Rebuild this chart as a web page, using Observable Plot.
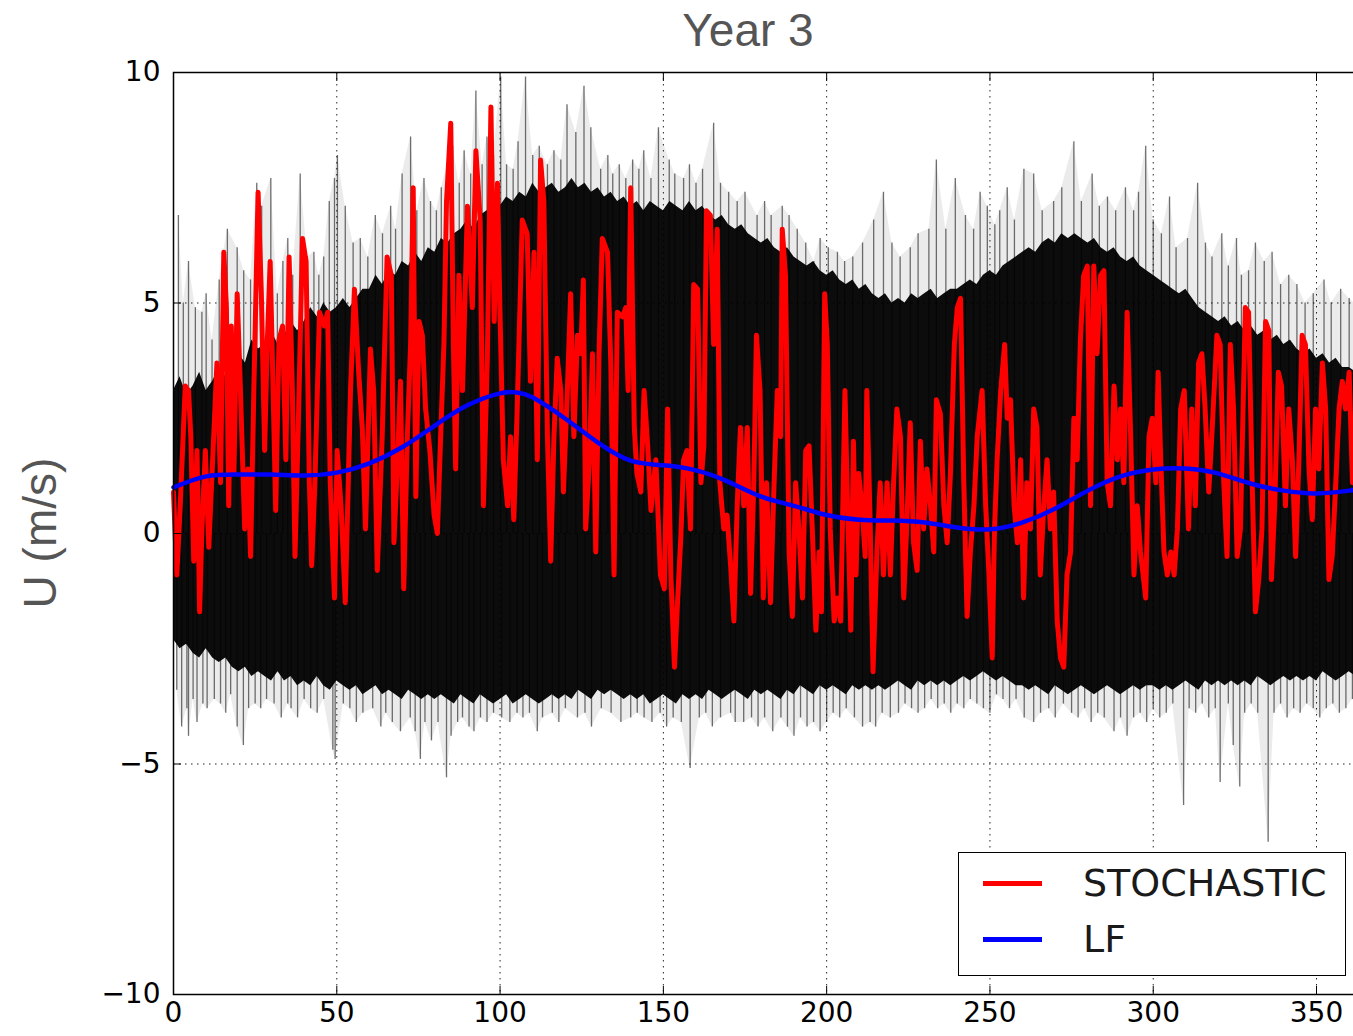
<!DOCTYPE html>
<html>
<head>
<meta charset="utf-8">
<script src="https://cdn.jsdelivr.net/npm/d3@7"></script>
<script src="https://cdn.jsdelivr.net/npm/@observablehq/plot@0.6"></script>
<style>
  html, body { margin: 0; padding: 0; background: #fff; overflow: hidden; width: 1353px; height: 1036px; }
  #wrap { position: relative; width: 1353px; height: 1036px; overflow: hidden; }
  #chart svg { max-width: none !important; display: block; }
  #title { height: 60px; line-height: 60px; width: 1496px; text-align: center; font-family: "Liberation Sans", Arial, sans-serif; font-size: 46px; color: #555; }
  #ylabel { position: absolute; left: 40px; top: 533px; transform: translate(-50%, -50%) rotate(-90deg); white-space: nowrap; font-family: "Liberation Sans", Arial, sans-serif; font-size: 46px; color: #555; }
  #legend { position: absolute; left: 958px; top: 852px; width: 388px; height: 124px; border: 1.5px solid #000; background: #fff; box-sizing: border-box; }
  .sw { position: absolute; left: 24px; width: 59px; height: 4.5px; }
  .lt { position: absolute; left: 124px; font-family: "DejaVu Sans", sans-serif; font-size: 38px; line-height: 40px; color: #1a1a1a; white-space: nowrap; }
</style>
</head>
<body>
<div id="wrap">
  <div id="title"></div>
  <div id="chart"></div>
  <div id="ylabel"></div>
  <div id="legend"></div>
</div>
<script>
// ---- texts ----
const titleText = "Year 3";
const yLabelText = "U (m/s)";
const legendLabels = ["STOCHASTIC", "LF"];
const legendColors = ["#ff0000", "#0000ff"];

// ---- ticks ----
const xTicks = [0, 50, 100, 150, 200, 250, 300, 350];
const yTicks = [-10, -5, 0, 5, 10];

// ---- LF (low-frequency) series ----
const lfDay = [0,10,20,30,40,50,60,70,80,90,100,105,110,120,130,140,150,160,170,180,190,200,210,220,230,240,250,260,270,280,290,300,310,320,330,340,350,360,365];
const lfVal = [1.0,1.24,1.28,1.28,1.26,1.32,1.52,1.87,2.34,2.78,3.04,3.06,2.95,2.49,1.97,1.58,1.48,1.37,1.12,0.8,0.6,0.4,0.3,0.28,0.24,0.13,0.09,0.24,0.54,0.93,1.24,1.39,1.41,1.3,1.08,0.93,0.87,0.93,0.98];

// ---- STOCHASTIC series ----
const redDay = [0,1.0,2.05,3.6,4.6,5.3,6.2,7.2,8.0,8.7,9.75,10.8,11.8,13.3,14.4,15.4,16.2,16.9,17.7,18.5,19.5,20.5,21.8,22.8,23.6,24.6,25.9,26.9,27.9,28.7,29.6,30.5,31.3,32.3,33.4,34.4,35.4,36.4,37.2,38.2,39.5,40.6,41.6,42.3,43.3,44.7,46.2,47.2,48.0,49.3,50.1,51.3,
52.6,54.2,55.4,56.7,57.8,58.8,60.3,61.3,62.4,63.9,65.4,66.7,67.5,68.5,69.5,70.5,71.6,72.6,73.4,74.2,75.2,76.2,77.2,78.5,79.8,80.8,81.8,82.8,83.6,84.9,85.7,86.4,87.4,88.5,90.0,91.5,92.6,93.9,94.9,96.1,97.2,98.2,99.2,100.0,101.0,102.3,
103.2,104.2,105.2,106.8,108.3,109.3,110.4,111.4,112.4,113.4,114.5,115.5,116.5,117.5,118.6,119.4,120.6,121.6,122.6,123.7,124.7,125.5,126.2,127.3,128.3,129.3,130.3,131.3,132.9,133.9,134.9,135.9,137.5,138.5,139.2,140.0,141.1,141.9,143.1,144.1,145.2,146.2,147.7,149.1,150.3,151.3,152.3,153.4,154.4,155.4,
156.2,157.2,158.3,159.3,160.5,161.5,162.4,163.2,164.4,165.4,166.5,167.3,168.5,169.5,170.6,171.6,172.6,173.6,174.6,175.7,176.7,177.7,178.5,179.6,180.6,181.6,182.8,183.9,184.9,185.9,186.4,187.4,188.5,189.5,190.5,191.5,192.6,193.6,194.6,195.6,196.7,197.7,198.4,199.4,200.2,201.1,202.3,203.3,204.3,205.6,206.4,207.4,208.2,
209.0,209.8,210.8,211.8,212.3,213.3,214.2,215.4,216.4,217.4,218.5,219.5,220.5,221.5,222.6,223.6,224.6,225.6,226.6,227.7,228.7,229.7,230.7,231.8,232.8,233.6,234.8,235.9,236.9,237.9,239.1,240.0,241.0,242.0,243.0,244.0,245.1,246.1,247.6,248.7,249.7,250.7,251.4,252.2,253.3,254.5,255.3,256.3,257.4,258.4,259.4,
260.3,261.3,262.4,263.4,264.4,265.4,266.5,267.5,268.5,269.5,270.6,271.6,272.6,273.6,274.7,275.7,276.7,277.7,278.7,279.8,280.8,281.8,282.8,283.9,284.9,285.9,286.9,288.0,289.0,290.0,291.0,292.0,293.1,294.1,295.1,296.1,297.7,298.7,299.7,300.8,301.5,302.3,303.3,304.3,305.4,306.4,307.4,308.4,309.5,
310.8,311.8,312.9,313.9,314.9,315.9,317.0,318.0,319.5,320.5,321.6,322.6,323.6,324.6,325.7,326.7,328.2,329.2,330.3,331.3,332.3,333.3,334.4,335.4,336.2,337.2,338.3,339.3,340.5,341.5,342.6,343.6,344.6,345.6,346.6,347.7,348.7,349.7,350.7,351.8,352.8,353.8,354.8,355.9,356.9,357.9,358.9,360.0,361.0,362.0];
const redVal = [0.9,-0.9,0.6,3.2,3.1,2.1,-0.6,1.8,-1.7,0.1,1.8,-0.3,1.3,3.7,1.1,6.1,4.9,0.6,4.5,1.3,5.2,3.1,0.1,1.4,-0.5,3.1,7.4,5.2,1.8,4.1,5.9,3.1,0.5,4.2,4.5,1.6,6.0,3.1,-0.5,2.3,6.4,5.9,1.1,-0.7,1.1,4.8,4.5,4.8,1.1,-1.4,1.8,0.6,
-1.5,3.1,5.3,3.5,2.3,0.1,4.0,3.1,-0.8,2.1,6.0,5.6,-0.2,1.4,3.3,-1.2,2.1,4.1,7.5,0.8,4.6,4.3,2.7,1.8,0.4,0.0,2.1,4.1,7.2,8.9,4.1,1.4,5.6,3.1,7.1,4.9,8.3,6.8,0.6,3.8,9.25,4.6,7.6,4.7,1.6,0.6,
2.1,0.3,2.6,6.8,6.5,3.3,6.1,1.6,8.1,7.2,2.1,-0.6,2.1,3.8,3.1,0.9,3.1,5.2,2.1,4.3,3.9,5.5,0.1,1.5,3.9,-0.4,3.9,6.4,6.1,3.7,-0.9,4.8,4.7,4.9,3.1,7.5,2.3,1.3,0.9,3.1,1.9,0.5,1.6,-0.9,-1.2,2.7,-0.9,-2.9,-1.4,0.0,
1.6,1.8,0.1,5.4,5.3,1.1,1.9,7.0,6.9,4.1,6.6,1.1,0.1,0.4,-0.7,-1.9,0.6,2.3,0.6,2.3,-1.3,1.1,4.3,3.1,-1.4,1.1,-1.5,1.1,3.1,2.1,6.6,5.6,-0.4,-1.8,1.1,0.1,-1.4,1.8,1.9,0.1,-2.1,-0.4,-1.7,5.2,4.1,0.1,-1.9,-1.4,-1.9,3.1,0.6,-2.1,2.0,
-0.9,1.3,0.6,-0.5,3.1,0.3,-3.0,-0.4,1.1,-0.9,1.1,-0.9,1.1,2.7,2.1,-1.4,0.3,2.4,-0.2,-0.8,2.0,0.1,1.4,0.6,-0.4,2.9,2.6,0.6,-0.2,1.3,4.1,4.9,5.1,1.1,-1.8,-0.4,0.6,2.1,3.1,0.6,-0.9,-2.7,0.1,1.6,3.1,4.1,2.5,2.9,0.6,-0.2,1.6,
-1.4,1.1,0.1,2.7,2.3,-0.9,0.6,1.6,0.1,0.9,-1.9,-2.7,-2.9,-0.9,-0.4,2.5,1.6,4.2,5.6,5.8,0.6,5.8,3.9,5.6,5.7,1.1,0.6,3.2,1.6,2.7,1.1,4.8,2.1,-0.9,0.6,-0.4,-1.4,2.1,2.5,1.1,3.5,1.6,-0.4,-0.9,-0.4,-0.9,0.1,2.7,3.1,
0.1,2.7,0.6,3.7,3.9,2.7,0.9,2.2,4.3,4.1,1.1,-0.5,4.1,2.7,-0.5,0.1,4.9,4.8,1.1,-1.7,-1.0,0.1,4.6,4.4,-1.0,0.6,3.5,3.2,0.6,2.7,1.6,-0.5,1.6,4.3,4.1,1.4,0.3,2.7,1.4,3.7,2.7,-1.0,-0.5,1.1,2.7,3.3,2.7,3.5,1.1,2.4];

// ---- hourly U: dense core envelope every 2 days (from day 0) ----
const coreStep = 2;
const coreHi = [3.1,3.4,3.0,3.2,3.5,3.1,3.3,3.6,3.4,3.7,
3.9,3.7,4.2,4.0,4.1,4.4,4.1,4.3,4.6,4.4,
4.6,4.9,4.7,5.0,4.8,4.9,5.1,4.9,5.1,5.3,
5.3,5.6,5.4,5.7,5.6,5.9,5.8,6.1,5.9,6.2,
6.1,6.4,6.3,6.5,6.6,6.8,6.6,6.9,7.0,6.9,
7.1,7.3,7.2,7.4,7.3,7.6,7.4,7.5,7.6,7.4,
7.5,7.7,7.5,7.6,7.4,7.5,7.3,7.4,7.2,7.3,
7.1,7.2,7.0,7.2,7.1,7.0,7.2,7.1,7.0,7.2,
7.0,7.1,6.9,6.8,6.9,6.7,6.6,6.7,6.5,6.4,
6.3,6.4,6.2,6.1,6.2,6.0,5.9,5.8,5.9,5.7,
5.6,5.7,5.5,5.4,5.5,5.3,5.4,5.2,5.1,5.2,
5.0,5.1,5.0,5.2,5.1,5.2,5.3,5.1,5.2,5.3,
5.3,5.4,5.5,5.4,5.6,5.7,5.6,5.8,5.9,6.0,
6.1,6.2,6.1,6.3,6.4,6.3,6.5,6.4,6.5,6.4,
6.3,6.4,6.2,6.1,6.2,6.0,5.9,6.0,5.8,5.7,
5.6,5.5,5.4,5.3,5.2,5.3,5.1,4.9,4.8,4.7,
4.6,4.7,4.5,4.6,4.4,4.5,4.3,4.4,4.2,4.3,
4.1,4.2,4.0,3.9,4.0,3.8,3.9,3.7,3.8,3.6,
3.6,3.5,3.6];
const coreLo = [-2.3,-2.5,-2.4,-2.6,-2.7,-2.5,-2.7,-2.8,-2.7,-2.9,
-3.0,-2.9,-3.1,-3.0,-3.1,-3.2,-3.0,-3.2,-3.1,-3.3,
-3.2,-3.3,-3.1,-3.3,-3.4,-3.2,-3.3,-3.4,-3.3,-3.5,
-3.4,-3.3,-3.5,-3.4,-3.5,-3.6,-3.4,-3.5,-3.6,-3.5,
-3.6,-3.5,-3.6,-3.7,-3.5,-3.6,-3.7,-3.5,-3.6,-3.7,
-3.6,-3.5,-3.7,-3.6,-3.5,-3.6,-3.7,-3.6,-3.5,-3.6,
-3.5,-3.6,-3.4,-3.5,-3.6,-3.4,-3.5,-3.4,-3.5,-3.6,
-3.5,-3.6,-3.5,-3.7,-3.6,-3.5,-3.6,-3.7,-3.5,-3.6,
-3.5,-3.6,-3.4,-3.5,-3.6,-3.5,-3.4,-3.5,-3.6,-3.4,
-3.5,-3.4,-3.5,-3.6,-3.4,-3.5,-3.3,-3.4,-3.5,-3.3,
-3.4,-3.3,-3.4,-3.5,-3.3,-3.4,-3.3,-3.4,-3.3,-3.4,
-3.3,-3.2,-3.3,-3.4,-3.2,-3.3,-3.2,-3.3,-3.2,-3.3,
-3.2,-3.1,-3.2,-3.1,-3.0,-3.1,-3.2,-3.1,-3.2,-3.3,
-3.3,-3.4,-3.3,-3.4,-3.5,-3.3,-3.4,-3.5,-3.4,-3.3,
-3.4,-3.5,-3.4,-3.3,-3.4,-3.5,-3.4,-3.3,-3.4,-3.3,
-3.3,-3.4,-3.3,-3.4,-3.3,-3.2,-3.3,-3.4,-3.2,-3.3,
-3.2,-3.3,-3.2,-3.3,-3.2,-3.3,-3.1,-3.2,-3.3,-3.2,
-3.1,-3.2,-3.1,-3.2,-3.1,-3.2,-3.0,-3.1,-3.2,-3.1,
-3.0,-3.1,-3.0];

// ---- hourly U: isolated excursions beyond the dense core ----
const spikeUpDay = [1.5,3,4.6,6.7,8.7,10,11.8,14,16.5,19.5,21.5,23.6,25.5,27,29.8,31.8,33.5,35,36.5,38.8,41,43,44.5,46,47.7,49.3,50.2,52.6,55,57.2,59.5,61.8,64,66.5,68,70,72.6,74.5,76.7,78.7,80.5,82,85.5,87.5,89,91,92.6,94.5,96,98,100.2,102,104,105.5,107.8,110,112,114.5,116.5,118.6,120.5,123.2,125.7,127.8,130.8,133,134.5,136.5,138.5,140.6,142.5,144,146.2,148.5,151.8,153.5,156.2,158,160,162,165.4,167.5,170,172.6,175,178.7,181,183,186.4,188.5,191,193.6,196.1,198,200.5,203.3,205.5,208,211,214.4,217.4,220,222.5,225.6,228,231.3,233.6,236.5,239.4,242.5,245,247,249.2,251.5,253,255.3,257.5,260.4,263.4,266,269.5,272,275.7,278,281.3,283.5,286,288.5,291.5,294,295.5,297.7,300,302.5,305,307,310.5,313.6,316,318,321,323,325.5,327,329.2,331.3,334,336.4,339,341.5,344,346.5,349,352.3,354.5,357.4,360,363];
const spikeUpVal = [6.9,5.0,5.9,4.9,4.8,5.2,4.2,5.5,6.6,6.2,5.7,5.5,7.6,7.1,7.7,5.2,5.9,6.4,5.6,7.8,6.0,6.1,5.6,6.0,7.2,7.7,8.2,7.1,6.3,6.4,6.0,6.9,6.5,7.1,6.6,7.8,8.6,7.0,7.7,7.2,7.0,7.5,8.4,7.6,8.3,7.8,9.6,8.0,8.6,8.2,9.9,8.0,7.9,8.5,9.9,8.2,8.4,8.0,8.3,8.1,9.3,8.7,9.7,8.8,7.9,8.2,7.8,8.0,7.7,8.1,7.9,8.3,7.7,8.8,8.1,7.8,7.7,8.0,7.6,7.9,8.9,7.6,7.4,7.2,7.4,6.9,7.2,6.9,7.1,6.9,6.6,6.3,5.9,6.4,6.2,6.1,5.9,6.0,6.3,6.8,7.4,6.3,6.0,6.2,6.5,6.6,8.1,6.6,7.7,6.9,6.6,7.4,7.1,6.7,7.0,7.5,6.8,7.9,7.8,7.0,7.2,7.5,8.5,7.2,7.8,7.1,7.3,7.0,7.5,7.0,7.4,8.4,6.8,6.5,7.3,6.2,6.4,7.6,6.3,6.0,6.5,5.8,6.4,5.6,5.7,6.3,5.9,6.1,5.4,5.6,5.4,5.0,5.2,5.5,5.0,5.3,5.1,4.9];
const spikeDnDay = [1,2.5,4.1,4.6,6,7.2,9,10.3,12.5,14.4,16,17.5,19.5,21.4,23,25,26.7,28.5,30.8,33,35,36,38,40,42,44,46,48.8,49.5,52,54,56,58,61,63.5,65,67,69.5,72.5,74,75.6,77,79,81,83.6,85,87,88.5,90.5,92,94,96,98,100.5,103,105.2,107,109,111.4,113,116,118,120,123.7,126,128,131,134,137,140,142,144.1,146.5,149,151,153,155.5,158.2,161,163,165,167.5,170.6,172,174.6,177,179,181,183.5,186,188,190,192,194,196,198,200,202,204,206,208.5,211,213.3,215,217,219.5,222,224,226,228,230,232,234,236,238,240,242,244,246,248,250,252,254,256,258,260.5,263.4,265.5,268,270,272.5,275,277,279,281,283,285,288,290,292,294,296,298,300,302,304,306,309.3,311,313,315,317,319,320.5,323,324.5,326.5,328,330,332,335.2,337,339,341,343,345,347,349,351,353,355,357,359,361,363];
const spikeDnVal = [-3.4,-4.2,-3.8,-4.4,-3.6,-4.1,-3.7,-3.8,-3.6,-3.7,-3.9,-3.5,-4.2,-4.6,-3.8,-3.7,-3.8,-3.6,-3.7,-4.0,-3.7,-3.8,-4.0,-3.6,-3.8,-3.9,-3.6,-4.7,-4.9,-3.7,-3.8,-4.1,-3.9,-3.8,-4.2,-3.9,-4.1,-4.3,-4.0,-4.3,-4.9,-4.1,-4.5,-4.1,-5.3,-4.4,-4.1,-4.0,-4.2,-4.3,-4.0,-4.1,-3.9,-4.0,-4.1,-3.9,-4.0,-3.9,-4.3,-4.0,-3.9,-4.1,-3.8,-4.0,-3.9,-4.2,-3.8,-3.9,-4.1,-4.0,-3.9,-4.0,-4.1,-3.9,-4.2,-4.0,-4.1,-5.1,-4.0,-3.9,-4.2,-4.0,-3.9,-4.1,-4.1,-4.0,-4.2,-4.0,-4.3,-4.0,-4.2,-4.4,-4.0,-4.2,-4.1,-4.3,-4.1,-3.9,-4.0,-3.8,-4.0,-4.2,-4.1,-4.2,-3.9,-4.0,-3.9,-3.7,-3.8,-3.9,-3.8,-3.6,-3.8,-3.7,-3.9,-3.7,-3.8,-3.6,-3.7,-3.8,-3.9,-3.5,-3.6,-3.8,-3.6,-4.0,-4.1,-3.9,-3.8,-4.0,-3.7,-3.9,-4.0,-3.8,-4.1,-3.9,-4.0,-4.3,-4.0,-4.4,-4.0,-3.9,-4.1,-3.8,-4.0,-3.9,-3.7,-5.9,-3.8,-3.9,-3.7,-4.0,-3.8,-5.4,-3.7,-4.6,-5.5,-3.9,-3.7,-3.9,-6.7,-3.9,-3.7,-4.0,-3.8,-3.9,-3.7,-3.8,-4.0,-3.8,-3.7,-3.9,-3.8,-3.6,-3.7];

// ---- build tables ----
function pairs(xs, ys) {
  const n = Math.min(xs.length, ys.length);
  return d3.range(n).map(i => ({d: xs[i], v: ys[i]}));
}
const red = pairs(redDay, redVal);
const lf = pairs(lfDay, lfVal);
const spikesUp = pairs(spikeUpDay, spikeUpVal);
const spikesDn = pairs(spikeDnDay, spikeDnVal);
const spikes = spikesUp.concat(spikesDn);
const nCore = Math.min(coreHi.length, coreLo.length);
const core = d3.range(nCore).map(i => ({d: i * coreStep, hi: coreHi[i], lo: coreLo[i]}));

const fmtY = d => (d < 0 ? "\u2212" + Math.abs(d) : String(d));

const chart = Plot.plot({
  width: 1366,
  height: 976,
  marginTop: 12,
  marginLeft: 173,
  marginRight: 1,
  marginBottom: 42,
  x: {domain: [0, 365]},
  y: {domain: [-10, 10]},
  style: {fontFamily: "DejaVu Sans, sans-serif", fontSize: "28px", color: "#000", background: "#fff", overflow: "visible", maxWidth: "none"},
  marks: [
    // faint haze of the hourly signal out to its excursions
    Plot.areaY(spikesUp, {x: "d", y1: 0, y2: "v", fill: "#000", fillOpacity: 0.08}),
    Plot.areaY(spikesDn, {x: "d", y1: 0, y2: "v", fill: "#000", fillOpacity: 0.08}),
    Plot.ruleX(spikes, {x: "d", y1: 0, y2: "v", stroke: "#333", strokeWidth: 1.3, strokeOpacity: 0.7}),
    Plot.areaY(core, {x: "d", y1: "lo", y2: "hi", fill: "#000", fillOpacity: 0.95}),
    Plot.gridX({ticks: xTicks, stroke: "#000", strokeOpacity: 0.85, strokeWidth: 1, strokeDasharray: "1.5,4.5"}),
    Plot.gridY({ticks: yTicks, stroke: "#000", strokeOpacity: 0.85, strokeWidth: 1, strokeDasharray: "1.5,4.5"}),
    Plot.line(red, {x: "d", y: "v", stroke: "#ff0000", strokeWidth: 5, strokeLinejoin: "round"}),
    Plot.line(lf, {x: "d", y: "v", stroke: "#0000ff", strokeWidth: 4.5, curve: "natural"}),
    Plot.frame({stroke: "#000", strokeWidth: 1.5}),
    Plot.axisX({ticks: xTicks, anchor: "bottom", tickSize: -8, tickPadding: 16, label: null, fontSize: 28, tickFormat: d => String(d)}),
    Plot.axisX({ticks: xTicks, anchor: "top", tickSize: -8, label: null, tickFormat: () => ""}),
    Plot.axisY({ticks: yTicks, anchor: "left", tickSize: -8, tickPadding: 21, label: null, fontSize: 28, tickFormat: fmtY})
  ]
});
chart.style.maxWidth = "none";
document.getElementById("chart").appendChild(chart);

document.getElementById("title").textContent = titleText;
document.getElementById("ylabel").textContent = yLabelText;

const legend = document.getElementById("legend");
const rowY = [30, 86];
legendLabels.forEach((lab, i) => {
  const sw = document.createElement("div");
  sw.className = "sw";
  sw.style.top = (rowY[i] - 2) + "px";
  sw.style.background = legendColors[i];
  legend.appendChild(sw);
  const t = document.createElement("div");
  t.className = "lt";
  t.style.top = (rowY[i] - 20) + "px";
  t.textContent = lab;
  legend.appendChild(t);
});
</script>
</body>
</html>
